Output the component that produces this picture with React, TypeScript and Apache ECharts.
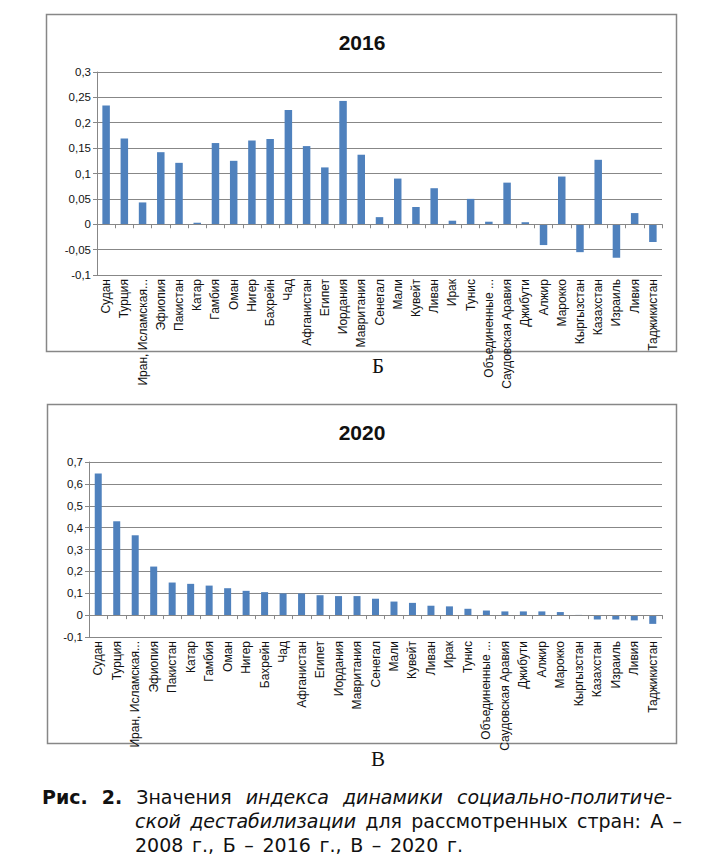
import React, { useEffect, useRef } from "react";
import * as echarts from "echarts";

const countries = [
  "Судан", "Турция", "Иран, Исламская...", "Эфиопия", "Пакистан", "Катар", "Гамбия", "Оман",
  "Нигер", "Бахрейн", "Чад", "Афганистан", "Египет", "Иордания", "Мавритания", "Сенегал",
  "Мали", "Кувейт", "Ливан", "Ирак", "Тунис", "Объединенные ...", "Саудовская Аравия", "Джибути",
  "Алжир", "Марокко", "Кыргызстан", "Казахстан", "Израиль", "Ливия", "Таджикистан",
];

const values2016 = [
  0.234, 0.169, 0.043, 0.142, 0.121, 0.003, 0.160, 0.125,
  0.165, 0.168, 0.225, 0.154, 0.112, 0.243, 0.137, 0.014,
  0.090, 0.034, 0.071, 0.007, 0.050, 0.005, 0.082, 0.004,
  -0.041, 0.094, -0.055, 0.127, -0.066, 0.022, -0.035,
];

const values2020 = [
  0.647, 0.429, 0.365, 0.222, 0.149, 0.143, 0.135, 0.123,
  0.111, 0.105, 0.099, 0.099, 0.091, 0.087, 0.087, 0.075,
  0.062, 0.056, 0.043, 0.040, 0.029, 0.021, 0.017, 0.017,
  0.017, 0.014, 0.001, -0.020, -0.020, -0.024, -0.040,
];

const titles = ["2016", "2020"];
const panelLetters = ["Б", "В"];

const axis2016 = { min: -0.1, max: 0.3, interval: 0.05 };
const axis2020 = { min: -0.1, max: 0.7, interval: 0.1 };

const GRAY = "#878787";
const BLUE = "#4F81BD";
const LABEL_FONT = "'Liberation Sans', Arial, sans-serif";

const fmt = (v: number) => String(parseFloat(v.toFixed(2))).replace(".", ",");

type W = { t: string; s?: "b" | "i" };
const captionLine1: W[] = [
  { t: "Рис.", s: "b" }, { t: "2.", s: "b" }, { t: "Значения" },
  { t: "индекса", s: "i" }, { t: "динамики", s: "i" }, { t: "социально-политиче-", s: "i" },
];
const captionLine2: W[] = [
  { t: "ской", s: "i" }, { t: "дестабилизации", s: "i" }, { t: "для" },
  { t: "рассмотренных" }, { t: "стран:" }, { t: "А" }, { t: "–" },
];
const captionLine3: W[] = [
  { t: "2008" }, { t: "г.," }, { t: "Б" }, { t: "–" }, { t: "2016" }, { t: "г.," },
  { t: "В" }, { t: "–" }, { t: "2020" }, { t: "г." },
];

function Line({ words, left, top, width }: { words: W[]; left: number; top: number; width: number }) {
  return (
    <div
      style={{
        position: "absolute",
        left,
        top,
        width,
        height: 24,
        lineHeight: "24px",
        display: "flex",
        justifyContent: "space-between",
        whiteSpace: "nowrap",
      }}
    >
      {words.map((w, i) => (
        <span
          key={i}
          style={{
            fontWeight: w.s === "b" ? "bold" : "normal",
            fontStyle: w.s === "i" ? "italic" : "normal",
          }}
        >
          {w.t}
        </span>
      ))}
    </div>
  );
}

export default function App() {
  const ref = useRef<HTMLDivElement>(null);

  useEffect(() => {
    if (!ref.current) return;
    const chart = echarts.init(ref.current, undefined, { renderer: "svg" });

    const xAxisBase = (gridIndex: number) => ({
      type: "category" as const,
      gridIndex,
      data: countries,
      z: 3,
      axisLine: { onZero: true, lineStyle: { color: GRAY, width: 1 } },
      axisTick: { show: true, alignWithLabel: false, interval: 0, length: 4, lineStyle: { color: GRAY } },
      axisLabel: {
        rotate: 90,
        interval: 0,
        margin: 4,
        fontSize: 12,
        color: "#111",
        fontFamily: LABEL_FONT,
      },
    });

    const yAxisBase = (gridIndex: number, a: { min: number; max: number; interval: number }) => ({
      type: "value" as const,
      gridIndex,
      min: a.min,
      max: a.max,
      interval: a.interval,
      axisLine: { show: true, lineStyle: { color: GRAY, width: 1 } },
      axisTick: { show: true, length: 4, lineStyle: { color: GRAY } },
      splitLine: { show: true, lineStyle: { color: GRAY, width: 1.2 } },
      axisLabel: {
        formatter: fmt,
        fontSize: 11.5,
        margin: 6,
        color: "#111",
        fontFamily: LABEL_FONT,
      },
    });

    const textEl = (x: number, y: number, text: string, serif: boolean) => ({
      type: "text" as const,
      x,
      y,
      style: {
        text,
        fontSize: 21,
        fontWeight: serif ? "normal" : "bold",
        fontFamily: serif ? "'Liberation Serif', 'DejaVu Serif', serif" : LABEL_FONT,
        fill: "#111",
        align: "center",
        verticalAlign: "middle",
      },
    });

    chart.setOption({
      animation: false,
      grid: [
        { left: 97, right: 46, top: 72, height: 203 },
        { left: 89, right: 46, top: 462, height: 175 },
      ],
      xAxis: [xAxisBase(0), xAxisBase(1)],
      yAxis: [yAxisBase(0, axis2016), yAxisBase(1, axis2020)],
      series: [
        {
          type: "bar",
          xAxisIndex: 0,
          yAxisIndex: 0,
          data: values2016,
          barWidth: 7.5,
          itemStyle: { color: BLUE },
          z: 2,
        },
        {
          type: "bar",
          xAxisIndex: 1,
          yAxisIndex: 1,
          data: values2020,
          barWidth: 7,
          itemStyle: { color: BLUE },
          z: 2,
        },
      ],
      graphic: [
        {
          type: "rect",
          shape: { x: 46.5, y: 14.5, width: 630, height: 337 },
          style: { fill: "none", stroke: GRAY, lineWidth: 1.5 },
          silent: true,
        },
        {
          type: "rect",
          shape: { x: 47.5, y: 404.5, width: 629, height: 339 },
          style: { fill: "none", stroke: GRAY, lineWidth: 1.5 },
          silent: true,
        },
        textEl(362, 42, titles[0], false),
        textEl(362, 432, titles[1], false),
        textEl(378, 366, panelLetters[0], true),
        textEl(378, 759, panelLetters[1], true),
      ],
    });

    return () => chart.dispose();
  }, []);

  return (
    <div style={{ position: "absolute", left: 0, top: 0, width: 708, height: 867, background: "#fff" }}>
      <div ref={ref} style={{ position: "absolute", left: 0, top: 0, width: 708, height: 867 }} />
      <div
        style={{
          position: "absolute",
          left: 0,
          top: 0,
          width: 708,
          height: 867,
          fontFamily: "'DejaVu Sans', Verdana, sans-serif",
          fontSize: 19,
          color: "#111",
          pointerEvents: "none",
        }}
      >
        <Line words={captionLine1} left={42} top={785} width={630} />
        <Line words={captionLine2} left={135} top={809} width={547} />
        <Line words={captionLine3} left={135} top={833} width={328} />
      </div>
    </div>
  );
}
